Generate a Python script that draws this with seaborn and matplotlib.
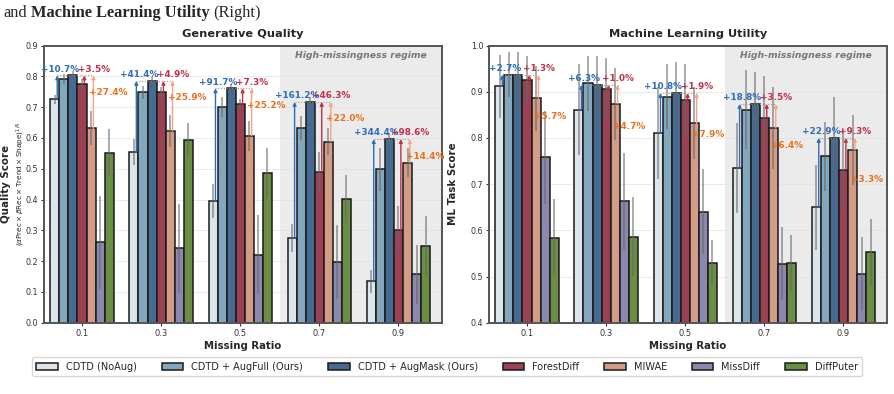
import numpy as np
import pandas as pd
import matplotlib
matplotlib.use("Agg")
import matplotlib.pyplot as plt
import seaborn as sns

# ---------------- data ----------------
ratios = ["0.1", "0.3", "0.5", "0.7", "0.9"]
methods = ["CDTD (NoAug)", "CDTD + AugFull (Ours)", "CDTD + AugMask (Ours)",
           "ForestDiff", "MIWAE", "MissDiff", "DiffPuter"]
colors = ["#d8e6ee", "#79aac7", "#3a699c", "#a8344a", "#e0967a", "#8680b5", "#6a9a38"]

# Generative Quality (left)
q_noaug = [0.725, 0.555, 0.396, 0.274, 0.134]
q_augfull = [0.790, 0.748, 0.701, 0.631, 0.498]
q_augmask = [0.803, 0.785, 0.761, 0.717, 0.596]
q_forest = [0.776, 0.748, 0.709, 0.489, 0.300]
q_miwae = [0.631, 0.623, 0.607, 0.588, 0.520]
q_missdiff = [0.261, 0.242, 0.221, 0.197, 0.157]
q_diffputer = [0.552, 0.593, 0.485, 0.401, 0.250]

q_err_noaug = [0.015, 0.042, 0.055, 0.045, 0.036]
q_err_augfull = [0.016, 0.022, 0.032, 0.039, 0.070]
q_err_augmask = [0.010, 0.012, 0.015, 0.015, 0.020]
q_err_forest = [0.015, 0.016, 0.016, 0.065, 0.078]
q_err_miwae = [0.055, 0.051, 0.049, 0.045, 0.047]
q_err_missdiff = [0.150, 0.144, 0.128, 0.120, 0.095]
q_err_diffputer = [0.077, 0.056, 0.081, 0.078, 0.097]

q_gain_noaug = ["+10.7%", "+41.4%", "+91.7%", "+161.2%", "+344.4%"]
q_gain_forest = ["+3.5%", "+4.9%", "+7.3%", "+46.3%", "+98.6%"]
q_gain_miwae = ["+27.4%", "+25.9%", "+25.2%", "+22.0%", "+14.4%"]

# Machine Learning Utility (right)
m_noaug = [0.912, 0.861, 0.810, 0.735, 0.650]
m_augfull = [0.937, 0.918, 0.889, 0.861, 0.760]
m_augmask = [0.9365, 0.915, 0.897, 0.8735, 0.800]
m_forest = [0.9245, 0.906, 0.881, 0.843, 0.731]
m_miwae = [0.886, 0.8735, 0.8315, 0.8215, 0.774]
m_missdiff = [0.758, 0.663, 0.640, 0.528, 0.505]
m_diffputer = [0.583, 0.586, 0.530, 0.530, 0.552]

m_err_noaug = [0.068, 0.098, 0.100, 0.097, 0.092]
m_err_augfull = [0.048, 0.060, 0.070, 0.086, 0.075]
m_err_augmask = [0.050, 0.063, 0.067, 0.070, 0.088]
m_err_forest = [0.052, 0.067, 0.079, 0.090, 0.088]
m_err_miwae = [0.070, 0.077, 0.078, 0.088, 0.076]
m_err_missdiff = [0.100, 0.105, 0.092, 0.079, 0.080]
m_err_diffputer = [0.085, 0.085, 0.048, 0.060, 0.073]

m_gain_noaug = ["+2.7%", "+6.3%", "+10.8%", "+18.8%", "+22.9%"]
m_gain_forest = ["+1.3%", "+1.0%", "+1.9%", "+3.5%", "+9.3%"]
m_gain_miwae = ["+5.7%", "+4.7%", "+7.9%", "+6.4%", "+3.3%"]

# ---------------- style ----------------
sns.set_style("ticks")
plt.rcParams["font.family"] = ["DejaVu Sans"]

BLUE, RED, ORANGE, ORANGE_ARROW = "#2d6db8", "#c0304a", "#e8701e", "#f4a582"

fig = plt.figure(figsize=(8.94, 3.94), dpi=100)
W, H = 894.0, 394.0
axL = fig.add_axes([44 / W, 1 - 322.7 / H, 398 / W, 277.2 / H])
axR = fig.add_axes([489 / W, 1 - 322.7 / H, 398 / W, 277.2 / H])


def draw(ax, vals, errs, gains, ylim, yticks, title, ylabel, orange_off):
    df = pd.DataFrame({
        "ratio": np.repeat([ratios], len(methods), axis=0).ravel(),
        "method": np.repeat(methods, len(ratios)),
        "value": np.concatenate(vals),
    })
    ax.axvspan(2.5, 4.55, color="#ebebeb", zorder=0, lw=0)
    ax.yaxis.grid(True, color="#dedede", lw=0.6, alpha=0.7, zorder=0.5)
    ax.set_axisbelow(True)
    sns.barplot(data=df, x="ratio", y="value", hue="method", order=ratios,
                hue_order=methods, palette=colors, edgecolor="#1a1a1a",
                linewidth=1.1, errorbar=None, ax=ax, zorder=2)
    bar_conts = list(ax.containers)
    centers, tops = [], []
    for j, cont in enumerate(bar_conts):
        xs = [b.get_x() + b.get_width() / 2 for b in cont]
        ys = [b.get_height() for b in cont]
        centers.append(xs)
        tops.append(ys)
    for j in range(len(bar_conts)):
        ax.errorbar(centers[j], tops[j], yerr=errs[j], fmt="none", ecolor="#666666",
                    elinewidth=1.1, alpha=0.7, capsize=0, zorder=3)
    g_noaug, g_forest, g_miwae = gains
    for i in range(len(ratios)):
        level = tops[2][i]
        xb = centers[0][i] + 0.03
        xr = centers[3][i] + 0.03
        xo = centers[4][i] + 0.03
        ax.plot([xb, xo], [level, level], ls=(0, (1, 1.5)), color="#999999",
                lw=0.8, zorder=4)
        for x0, y0, c in [(xb, tops[0][i], BLUE), (xr, tops[3][i], RED),
                          (xo, tops[4][i], ORANGE_ARROW)]:
            ax.annotate("", xy=(x0, level), xytext=(x0, y0),
                        arrowprops=dict(arrowstyle="-|>", color=c, lw=1.0,
                                        mutation_scale=5, shrinkA=0, shrinkB=0),
                        zorder=5)
        ax.annotate(g_noaug[i], xy=(centers[0][i] + 0.065, level), xytext=(0, 4.5),
                    textcoords="offset points", ha="center", va="center",
                    color=BLUE, fontsize=6.4, fontweight="bold", zorder=6)
        ax.annotate(g_forest[i], xy=(centers[4][i] + 0.035, level), xytext=(0, 4.5),
                    textcoords="offset points", ha="center", va="center",
                    color=RED, fontsize=6.4, fontweight="bold", zorder=6)
        ax.text(centers[4][i] - 0.025, level - orange_off, g_miwae[i],
                ha="left", va="center", color=ORANGE, fontsize=6.4,
                fontweight="bold", zorder=6)
    ax.text((2.5 + 4.55) / 2, ylim[1] - 0.035 * (ylim[1] - ylim[0]),
            "High-missingness regime", ha="center", va="center",
            color="#777777", fontsize=6.7, fontweight="bold", style="italic")
    ax.set_xlim(-0.48, 4.55)
    ax.set_ylim(*ylim)
    ax.set_yticks(yticks)
    ax.set_yticklabels([f"{t:.1f}" for t in yticks])
    ax.tick_params(axis="both", labelsize=6.0, length=2.5, width=0.8,
                   colors="#333333", pad=2)
    ax.tick_params(axis="y", labelsize=5.8, pad=1.5)
    ax.set_xlabel("Missing Ratio", fontsize=7.3, fontweight="bold", labelpad=2)
    ax.set_ylabel(ylabel, fontsize=7.4, fontweight="bold")
    ax.set_title(title, fontsize=8.2, fontweight="bold", pad=6)
    for s in ax.spines.values():
        s.set_visible(True)
        s.set_color("#555555")
        s.set_linewidth(1.4)
    leg = ax.get_legend()
    handles = leg.legend_handles if leg is not None else None
    if leg is not None:
        leg.remove()
    return handles


q_vals = [q_noaug, q_augfull, q_augmask, q_forest, q_miwae, q_missdiff, q_diffputer]
q_errs = [q_err_noaug, q_err_augfull, q_err_augmask, q_err_forest, q_err_miwae,
          q_err_missdiff, q_err_diffputer]
m_vals = [m_noaug, m_augfull, m_augmask, m_forest, m_miwae, m_missdiff, m_diffputer]
m_errs = [m_err_noaug, m_err_augfull, m_err_augmask, m_err_forest, m_err_miwae,
          m_err_missdiff, m_err_diffputer]

handles = draw(axL, q_vals, q_errs, (q_gain_noaug, q_gain_forest, q_gain_miwae),
               (0.0, 0.9), np.round(np.arange(0, 0.91, 0.1), 1),
               "Generative Quality", "Quality Score", 0.055)
draw(axR, m_vals, m_errs, (m_gain_noaug, m_gain_forest, m_gain_miwae),
     (0.4, 1.0), np.round(np.arange(0.4, 1.01, 0.1), 1),
     "Machine Learning Utility", "ML Task Score", 0.09)

axL.yaxis.set_label_coords(-0.082, 0.5)
axL.text(-0.058, 0.5,
         r"$(\alpha\mathrm{Prec}\times\beta\mathrm{Rec}\times\mathrm{Trend}\times\mathrm{Shape})^{1/4}$",
         rotation=90, ha="center", va="center", fontsize=5.2, transform=axL.transAxes)
axR.yaxis.set_label_coords(-0.078, 0.5)

LEG_FS = 7.0
def make_legend(colsp):
    return fig.legend(handles, methods, loc="upper center",
                      bbox_to_anchor=(0.5, 1 - 357.3 / H), borderaxespad=0, ncol=7,
                      fontsize=LEG_FS, frameon=True, edgecolor="#cccccc", fancybox=True,
                      columnspacing=colsp, handlelength=2.23, handleheight=0.65,
                      handletextpad=0.82, borderpad=0.45)

fig.canvas.draw()
r = fig.canvas.get_renderer()
colsp = 2.06
leg = make_legend(colsp)
wpx = leg.get_window_extent(renderer=r).width
em = LEG_FS * 100 / 72.0
colsp = max(0.5, colsp + (830 - wpx) / 6.0 / em)
leg.remove()
make_legend(colsp)

# caption fragment at top
CAP = 11.8
def tw(s, w):
    t = fig.text(0, 0, s, fontsize=CAP, fontweight=w, family="Liberation Serif")
    wd = t.get_window_extent(renderer=r).width
    t.remove()
    return wd
space = tw("a b", "normal") - tw("ab", "normal")
x = 3.0
y = 1 - 16.8 / H
for s, w, gap in [("and", "normal", True), ("Machine Learning Utility", "bold", True),
                  ("(Right)", "normal", False)]:
    fig.text(x / W, y, s, fontsize=CAP, fontweight=w, family="Liberation Serif",
             va="baseline", ha="left")
    x += tw(s, w) + (space if gap else 0)

fig.savefig("out.png", dpi=100)
